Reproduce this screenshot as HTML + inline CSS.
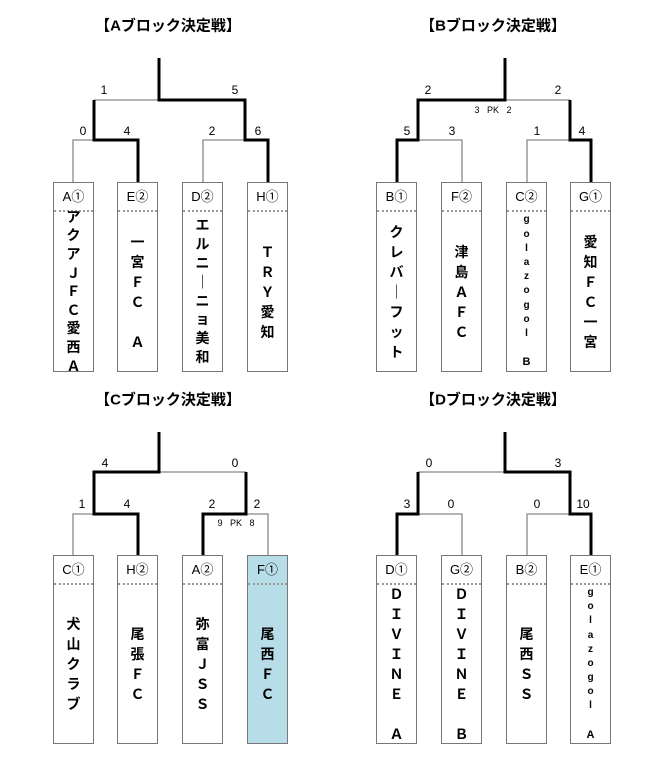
<!DOCTYPE html>
<html><head><meta charset="utf-8"><style>
html,body{margin:0;padding:0;background:#fff;width:646px;height:766px;overflow:hidden}
body{position:relative;font-family:"Liberation Sans","Noto Sans CJK JP",sans-serif}
.t{position:absolute;font-size:15px;font-weight:bold;transform:translate(-50%,-50%);white-space:nowrap}
.s{position:absolute;font-size:12px;transform:translate(-50%,-50%);white-space:nowrap}
.pk{position:absolute;font-size:9px;transform:translate(-50%,-50%);white-space:pre}
.b{position:absolute;width:41px;border:1px solid #777;box-sizing:border-box;background:#fff}
.h{height:27px;line-height:27px;text-align:center;font-size:13px;border-bottom:2px dotted #999}
.n{position:absolute;left:0;right:0;top:29px;bottom:0;display:flex;flex-direction:column;justify-content:center;align-items:center;font-size:14px;font-weight:bold}
.n span{display:block;height:20px;line-height:20px}
.sm span{font-size:10px;height:14.2px;line-height:14.2px}
svg{position:absolute;left:0;top:0}
</style></head><body>
<svg width="646" height="766">
<g stroke="#888" stroke-width="1.3" fill="none">
<path d="M94,100H159M73,182V140H94M203,182V140H245"/>
<path d="M505,100H570M462,182V140H418M527,182V140H570"/>
<path d="M159,472H246M73,555V514H94M246,514H268V555"/>
<path d="M418,472H505M418,514H462V555M527,555V514H570"/>
</g>
<g stroke="#000" stroke-width="3" fill="none">
<path d="M159,58V100H245V140H268V182M94,100V140H138V182"/>
<path d="M505,58V100H418V140H397V182M570,100V140H591V182"/>
<path d="M159,432V472H94V514H138V555M246,472V514H203V555"/>
<path d="M505,432V472H570V514H591V555M418,472V514H397V555"/>
</g>
</svg>
<div class="t" style="left:168px;top:25px">【Aブロック決定戦】</div>
<div class="t" style="left:493px;top:25px">【Bブロック決定戦】</div>
<div class="t" style="left:168px;top:399px">【Cブロック決定戦】</div>
<div class="t" style="left:493px;top:399px">【Dブロック決定戦】</div>

<div class="s" style="left:104px;top:90px">1</div><div class="s" style="left:235px;top:90px">5</div>
<div class="s" style="left:83px;top:131px">0</div><div class="s" style="left:127px;top:131px">4</div>
<div class="s" style="left:212px;top:131px">2</div><div class="s" style="left:258px;top:131px">6</div>

<div class="s" style="left:428px;top:90px">2</div><div class="s" style="left:558px;top:90px">2</div>
<div class="pk" style="left:493px;top:110px">3   PK   2</div>
<div class="s" style="left:407px;top:131px">5</div><div class="s" style="left:452px;top:131px">3</div>
<div class="s" style="left:537px;top:131px">1</div><div class="s" style="left:582px;top:131px">4</div>

<div class="s" style="left:105px;top:463px">4</div><div class="s" style="left:235px;top:463px">0</div>
<div class="s" style="left:82px;top:504px">1</div><div class="s" style="left:127px;top:504px">4</div>
<div class="s" style="left:212px;top:504px">2</div><div class="s" style="left:257px;top:504px">2</div>
<div class="pk" style="left:236px;top:523px">9   PK   8</div>

<div class="s" style="left:429px;top:463px">0</div><div class="s" style="left:558px;top:463px">3</div>
<div class="s" style="left:407px;top:504px">3</div><div class="s" style="left:451px;top:504px">0</div>
<div class="s" style="left:537px;top:504px">0</div><div class="s" style="left:583px;top:504px">10</div>

<div class="b" style="left:53px;top:182px;height:190px"><div class="h">A①</div><div class="n"><span style="height:18.6px;line-height:18.6px">ア</span><span style="height:18.6px;line-height:18.6px">ク</span><span style="height:18.6px;line-height:18.6px">ア</span><span style="height:18.6px;line-height:18.6px">Ｊ</span><span style="height:18.6px;line-height:18.6px">Ｆ</span><span style="height:18.6px;line-height:18.6px">Ｃ</span><span style="height:18.6px;line-height:18.6px">愛</span><span style="height:18.6px;line-height:18.6px">西</span><span style="height:18.6px;line-height:18.6px">Ａ</span></div></div>
<div class="b" style="left:117px;top:182px;height:190px"><div class="h">E②</div><div class="n"><span>一</span><span>宮</span><span>Ｆ</span><span>Ｃ</span><span>　</span><span>Ａ</span></div></div>
<div class="b" style="left:182px;top:182px;height:190px"><div class="h">D②</div><div class="n"><span style="height:18.9px;line-height:18.9px">エ</span><span style="height:18.9px;line-height:18.9px">ル</span><span style="height:18.9px;line-height:18.9px">ニ</span><span style="height:18.9px;line-height:18.9px">｜</span><span style="height:18.9px;line-height:18.9px">ニ</span><span style="height:18.9px;line-height:18.9px">ョ</span><span style="height:18.9px;line-height:18.9px">美</span><span style="height:18.9px;line-height:18.9px">和</span></div></div>
<div class="b" style="left:247px;top:182px;height:190px"><div class="h">H①</div><div class="n"><span>Ｔ</span><span>Ｒ</span><span>Ｙ</span><span>愛</span><span>知</span></div></div>

<div class="b" style="left:376px;top:182px;height:190px"><div class="h">B①</div><div class="n"><span>ク</span><span>レ</span><span>バ</span><span>｜</span><span>フ</span><span>ッ</span><span>ト</span></div></div>
<div class="b" style="left:441px;top:182px;height:190px"><div class="h">F②</div><div class="n"><span>津</span><span>島</span><span>Ａ</span><span>Ｆ</span><span>Ｃ</span></div></div>
<div class="b" style="left:506px;top:182px;height:190px"><div class="h">C②</div><div class="n sm"><span>g</span><span>o</span><span>l</span><span>a</span><span>z</span><span>o</span><span>g</span><span>o</span><span>l</span><span>&nbsp;</span><span style="font-size:11px">B</span></div></div>
<div class="b" style="left:570px;top:182px;height:190px"><div class="h">G①</div><div class="n"><span>愛</span><span>知</span><span>Ｆ</span><span>Ｃ</span><span>一</span><span>宮</span></div></div>

<div class="b" style="left:53px;top:555px;height:189px"><div class="h">C①</div><div class="n"><span>犬</span><span>山</span><span>ク</span><span>ラ</span><span>ブ</span></div></div>
<div class="b" style="left:117px;top:555px;height:189px"><div class="h">H②</div><div class="n"><span>尾</span><span>張</span><span>Ｆ</span><span>Ｃ</span></div></div>
<div class="b" style="left:182px;top:555px;height:189px"><div class="h">A②</div><div class="n"><span>弥</span><span>富</span><span>Ｊ</span><span>Ｓ</span><span>Ｓ</span></div></div>
<div class="b" style="left:247px;top:555px;height:189px;background:#b7dde8"><div class="h">F①</div><div class="n"><span>尾</span><span>西</span><span>Ｆ</span><span>Ｃ</span></div></div>

<div class="b" style="left:376px;top:555px;height:189px"><div class="h">D①</div><div class="n"><span>Ｄ</span><span>Ｉ</span><span>Ｖ</span><span>Ｉ</span><span>Ｎ</span><span>Ｅ</span><span>　</span><span>Ａ</span></div></div>
<div class="b" style="left:441px;top:555px;height:189px"><div class="h">G②</div><div class="n"><span>Ｄ</span><span>Ｉ</span><span>Ｖ</span><span>Ｉ</span><span>Ｎ</span><span>Ｅ</span><span>　</span><span>Ｂ</span></div></div>
<div class="b" style="left:506px;top:555px;height:189px"><div class="h">B②</div><div class="n"><span>尾</span><span>西</span><span>Ｓ</span><span>Ｓ</span></div></div>
<div class="b" style="left:570px;top:555px;height:189px"><div class="h">E①</div><div class="n sm"><span>g</span><span>o</span><span>l</span><span>a</span><span>z</span><span>o</span><span>g</span><span>o</span><span>l</span><span>&nbsp;</span><span style="font-size:11px">A</span></div></div>
</body></html>
